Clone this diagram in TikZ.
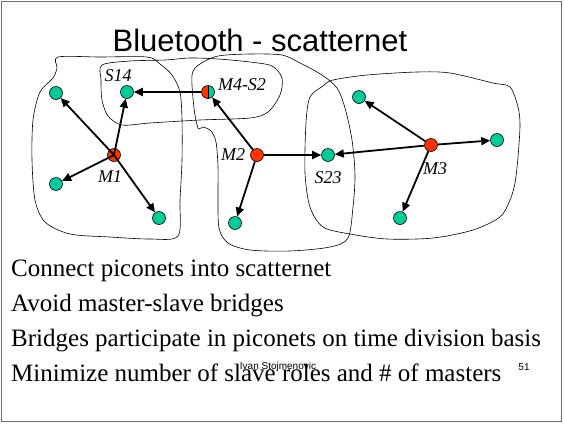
\documentclass[tikz,border=0pt]{standalone}
\usepackage{fontspec}
\setmainfont{Liberation Serif}
\newfontfamily\arialfont{Liberation Sans}
\usetikzlibrary{arrows.meta}
\definecolor{ngreen}{RGB}{0,204,153}
\definecolor{nred}{RGB}{255,51,0}
\definecolor{frame}{RGB}{110,110,110}
\begin{document}
\begin{tikzpicture}[x=1pt,y=-1pt,
  dev/.style={circle,draw=black,line width=0.6pt,minimum size=13pt,inner sep=0pt},
  slave/.style={dev,fill=ngreen},
  master/.style={dev,fill=nred},
  link/.style={line width=1.8pt,-{Triangle[length=9pt,width=8pt]}},
  blob/.style={line width=0.6pt,black},
  lab/.style={font=\fontsize{18}{18}\selectfont\itshape,inner sep=0pt},
  bullet/.style={font=\fontsize{25}{25}\selectfont,anchor=base west,inner sep=0pt},
  small/.style={font=\arialfont\fontsize{10}{10}\selectfont,inner sep=0pt,anchor=base},
]
\useasboundingbox (0,0) rectangle (564,424);
\draw[line width=1.5pt, frame] (1.5,1.5) rectangle (561.5,421.5);

% title
\node[font=\arialfont\fontsize{31}{31}\selectfont, anchor=base, inner sep=0pt] (title) at (260,51) {Bluetooth - scatternet};

% piconet outlines
\draw[blob] plot[smooth cycle, tension=0.5] coordinates {(58,57) (100,57) (147,57) (160,64) (172,75) (180,92) (182,120) (182,160) (180,200) (178,236) (150,239) (110,237) (70,234) (45,222) (35,200) (32,160) (33,120) (40,92) (53,78) (57,68)};
\draw[blob] plot[smooth cycle, tension=0.5] coordinates {(102,65) (130,61) (165,60) (190,58) (218,59) (250,62) (272,66) (282,78) (280,95) (268,112) (250,118) (200,120) (150,123) (122,125) (108,116) (102,100) (101,80)};
\draw[blob] plot[smooth cycle, tension=0.5] coordinates {(192,75) (200,64) (218,56) (250,54) (282,55) (300,63) (322,75) (337,88) (345,108) (352,140) (355,175) (353,207) (348,238) (330,247) (290,251) (250,250) (228,243) (219,228) (218,197) (218,167) (216,142) (211,131) (203,127) (198,128) (194,108)};
\draw[blob] plot[smooth cycle, tension=0.5] coordinates {(323,86) (333,80) (367,75) (417,72) (450,73) (493,83) (510,87) (518,107) (520,125) (518,157) (515,183) (510,200) (500,217) (473,230) (433,238) (387,239) (350,234) (323,227) (310,207) (305,173) (306,123) (310,97)};

% devices
\node[slave] (a1) at (56,93) {};
\node[slave] (s14) at (127,92) {};
\node[slave] (a3) at (56,184) {};
\node[slave] (a4) at (159,218) {};
\node[master] (m1) at (114,155) {};
\node[slave, path picture={\fill[nred] (path picture bounding box.south west) rectangle (path picture bounding box.north); \draw[line width=0.6pt] (path picture bounding box.north) -- (path picture bounding box.south);}] (m4) at (208,92) {};
\node[master] (m2) at (257,155) {};
\node[slave] (s23) at (328,155) {};
\node[slave] (b1) at (235,223) {};
\node[master] (m3) at (431,145) {};
\node[slave] (c1) at (359,97) {};
\node[slave] (c2) at (497,140) {};
\node[slave] (c3) at (400,218) {};

% links
\draw[link] (m1.center) -- (a1);
\draw[link] (m1.center) -- (s14);
\draw[link] (m1.center) -- (a3);
\draw[link] (m1.center) -- (a4);
\draw[link] (m4) -- (s14);
\draw[link] (m2) -- (m4);
\draw[link] (m2) -- (s23);
\draw[link] (m2) -- (b1);
\draw[link] (m3) -- (c1);
\draw[link] (m3) -- (s23);
\draw[link] (m3) -- (c2);
\draw[link] (m3) -- (c3);

% labels
\node[lab] (ls14) at (118,76) {S14};
\node[lab] (lm4) at (242,85) {M4-S2};
\node[lab] (lm1) at (110,177) {M1};
\node[lab] (lm2) at (233,155) {M2};
\node[lab] (ls23) at (328,178) {S23};
\node[lab] (lm3) at (435,169) {M3};

% bullet text
\node[bullet] (t1) at (11,276) {Connect piconets into scatternet};
\node[bullet] (t2) at (11,311) {Avoid master-slave bridges};
\node[bullet] (t3) at (11,346) {Bridges participate in piconets on time division basis};
\node[bullet] (t4) at (11,381) {Minimize number of slave roles and \# of masters};

% footer
\node[small] (author) at (278,369) {Ivan Stojmenovic};
\node[small] (page) at (524,370) {51};
\end{tikzpicture}
\end{document}
